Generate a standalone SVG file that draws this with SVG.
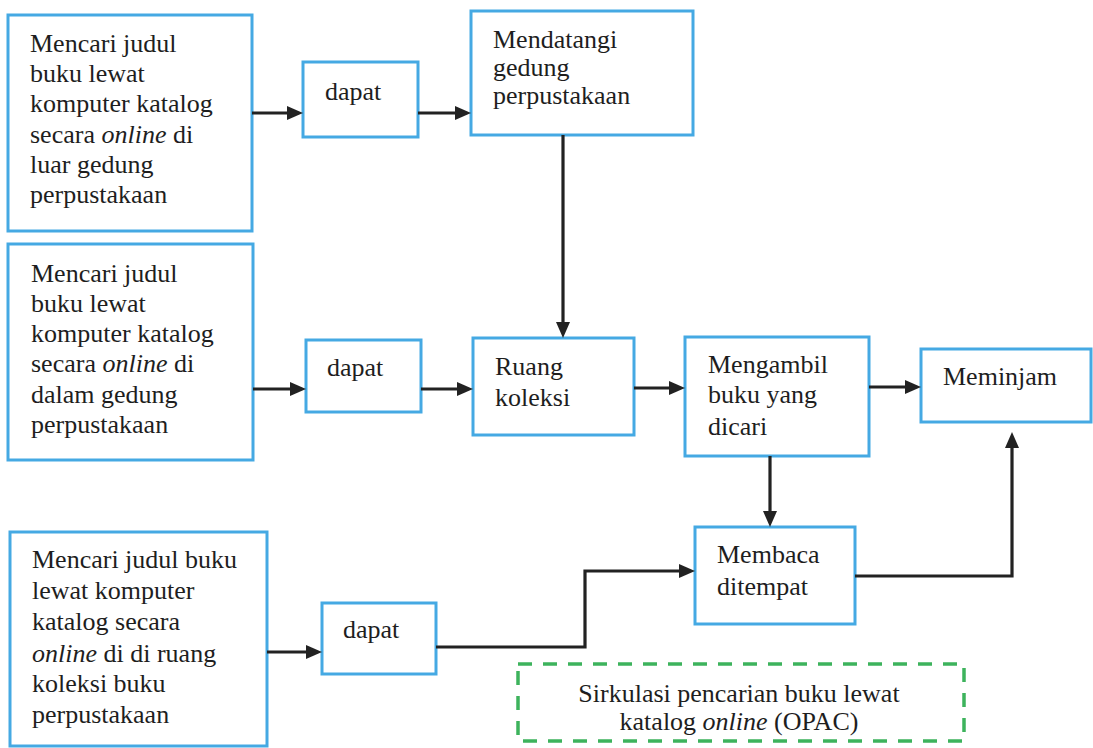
<svg xmlns="http://www.w3.org/2000/svg" width="1093" height="748" viewBox="0 0 1093 748">
  <style>
    .box { fill: #ffffff; stroke: #45a9e3; stroke-width: 3; }
    .group { fill: none; stroke: #3db35c; stroke-width: 3.5; stroke-dasharray: 14 11; }
    .lbl { font-size: 26px; fill: #1e1e1e; }
    .mid { text-anchor: middle; }
    .wire { fill: none; stroke: #222222; stroke-width: 3.2; }
  </style>
  <defs>
    <marker id="arrow" markerUnits="userSpaceOnUse" markerWidth="18" markerHeight="14" refX="6" refY="7" orient="auto">
      <path d="M0,0 L16,7 L0,14 z" fill="#222222"/>
    </marker>
  </defs>
  <rect width="1093" height="748" fill="#ffffff"/>

  <g font-family="'Liberation Serif', Tinos, 'Times New Roman', Times, 'DejaVu Serif', serif">
  <!-- search outside the library building -->
  <g id="search-outside">
    <rect class="box" x="8" y="15" width="244" height="216"/>
    <text class="lbl" x="30" y="52">Mencari judul</text>
    <text class="lbl" x="30" y="82">buku lewat</text>
    <text class="lbl" x="30" y="112">komputer katalog</text>
    <text class="lbl" x="30" y="143">secara <tspan font-style="italic">online</tspan> di</text>
    <text class="lbl" x="30" y="173">luar gedung</text>
    <text class="lbl" x="30" y="203">perpustakaan</text>
  </g>

  <g id="found-1">
    <rect class="box" x="303" y="62" width="115" height="75"/>
    <text class="lbl" x="325" y="100">dapat</text>
  </g>

  <g id="visit-library">
    <rect class="box" x="471" y="11" width="222" height="124"/>
    <text class="lbl" x="493" y="48">Mendatangi</text>
    <text class="lbl" x="493" y="76">gedung</text>
    <text class="lbl" x="493" y="104">perpustakaan</text>
  </g>

  <!-- search inside the library building -->
  <g id="search-inside">
    <rect class="box" x="8" y="244" width="245" height="216"/>
    <text class="lbl" x="31" y="282">Mencari judul</text>
    <text class="lbl" x="31" y="312">buku lewat</text>
    <text class="lbl" x="31" y="342">komputer katalog</text>
    <text class="lbl" x="31" y="372">secara <tspan font-style="italic">online</tspan> di</text>
    <text class="lbl" x="31" y="403">dalam gedung</text>
    <text class="lbl" x="31" y="433">perpustakaan</text>
  </g>

  <g id="found-2">
    <rect class="box" x="306" y="340" width="115" height="72"/>
    <text class="lbl" x="327" y="376">dapat</text>
  </g>

  <g id="collection-room">
    <rect class="box" x="473" y="338" width="161" height="97"/>
    <text class="lbl" x="495" y="375">Ruang</text>
    <text class="lbl" x="495" y="406">koleksi</text>
  </g>

  <g id="take-book">
    <rect class="box" x="685" y="337" width="184" height="119"/>
    <text class="lbl" x="708" y="373">Mengambil</text>
    <text class="lbl" x="708" y="403">buku yang</text>
    <text class="lbl" x="708" y="435">dicari</text>
  </g>

  <g id="borrow">
    <rect class="box" x="921" y="349" width="170" height="73"/>
    <text class="lbl" x="943" y="385">Meminjam</text>
  </g>

  <g id="read-on-site">
    <rect class="box" x="695" y="527" width="160" height="97"/>
    <text class="lbl" x="717" y="563">Membaca</text>
    <text class="lbl" x="717" y="595">ditempat</text>
  </g>

  <!-- search inside the collection room -->
  <g id="search-room">
    <rect class="box" x="10" y="532" width="257" height="214"/>
    <text class="lbl" x="32" y="568">Mencari judul buku</text>
    <text class="lbl" x="32" y="599">lewat komputer</text>
    <text class="lbl" x="32" y="630">katalog secara</text>
    <text class="lbl" x="32" y="662"><tspan font-style="italic">online</tspan> di di ruang</text>
    <text class="lbl" x="32" y="692">koleksi buku</text>
    <text class="lbl" x="32" y="723">perpustakaan</text>
  </g>

  <g id="found-3">
    <rect class="box" x="322" y="603" width="114" height="71"/>
    <text class="lbl" x="343" y="638">dapat</text>
  </g>

  <g id="legend">
    <rect class="group" x="518" y="664" width="446" height="77"/>
    <text class="lbl mid" x="739" y="702">Sirkulasi pencarian buku lewat</text>
    <text class="lbl mid" x="739" y="730">katalog <tspan font-style="italic">online</tspan> (OPAC)</text>
  </g>
  </g>

  <g id="connectors">
    <path class="wire" marker-end="url(#arrow)" d="M252,113 H293"/>
    <path class="wire" marker-end="url(#arrow)" d="M418,113 H461"/>
    <path class="wire" marker-end="url(#arrow)" d="M563,135 V328"/>
    <path class="wire" marker-end="url(#arrow)" d="M253,389 H296"/>
    <path class="wire" marker-end="url(#arrow)" d="M421,389 H463"/>
    <path class="wire" marker-end="url(#arrow)" d="M634,388 H675"/>
    <path class="wire" marker-end="url(#arrow)" d="M869,387 H911"/>
    <path class="wire" marker-end="url(#arrow)" d="M770,456 V517"/>
    <path class="wire" marker-end="url(#arrow)" d="M267,652 H312"/>
    <path class="wire" marker-end="url(#arrow)" d="M436,647 H585 V571 H685"/>
    <path class="wire" marker-end="url(#arrow)" d="M855,576 H1012 V442"/>
  </g>
</svg>
